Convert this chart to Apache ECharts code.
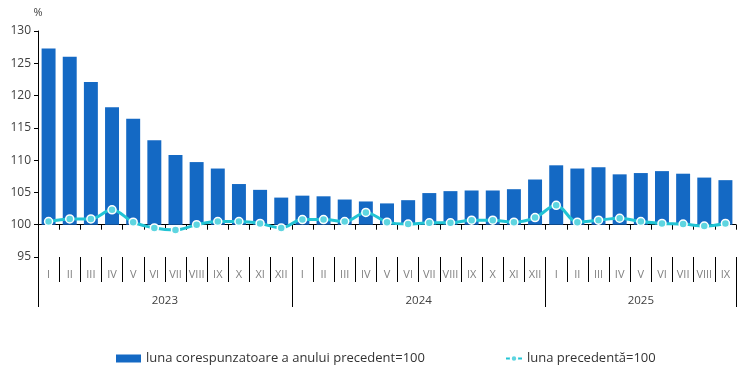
<!DOCTYPE html>
<html>
<head>
<meta charset="utf-8">
<script src="https://cdn.jsdelivr.net/npm/echarts@6/dist/echarts.min.js"></script>
<style>
  html, body { margin: 0; padding: 0; background: #fff; }
  #chart { width: 749px; height: 375px; }
</style>
</head>
<body>
<div id="chart"></div>
<script>
const monthNames = ['I','II','III','IV','V','VI','VII','VIII','IX','X','XI','XII'];
const years = ['2023','2024','2025'];
const monthsPerYear = [12, 12, 9];
const yoyName = 'luna corespunzatoare a anului precedent=100';
const momName = 'luna precedentă=100';
// luna corespunzatoare a anului precedent = 100
const yoyValues = [
  127.3, 126.0, 122.1, 118.2, 116.4, 113.1, 110.8, 109.7, 108.7, 106.3, 105.4, 104.2,
  104.5, 104.4, 103.9, 103.6, 103.3, 103.8, 104.9, 105.2, 105.3, 105.3, 105.5, 107.0,
  109.2, 108.7, 108.9, 107.8, 108.0, 108.3, 107.9, 107.3, 106.9
];
// luna precedenta = 100
const momValues = [
  100.5, 100.9, 100.9, 102.3, 100.4, 99.5, 99.2, 100.0, 100.5, 100.5, 100.2, 99.5,
  100.8, 100.8, 100.5, 101.9, 100.4, 100.1, 100.3, 100.3, 100.7, 100.7, 100.4, 101.1,
  103.0, 100.4, 100.7, 101.0, 100.5, 100.2, 100.1, 99.8, 100.2
];
const baseValue = 100;

const categories = [];
const yearStarts = [];
const yearLabelAt = {};
years.forEach((y, k) => {
  const start = categories.length;
  yearStarts.push(start);
  const n = monthsPerYear[k];
  for (let i = 0; i < n; i++) categories.push(monthNames[i]);
  const idx = start + Math.floor((n - 1) / 2);
  yearLabelAt[idx] = { text: y, shift: n % 2 === 0 };
});

const FONT = 'Open Sans';
const chart = echarts.init(document.getElementById('chart'), null, { renderer: 'canvas' });

chart.setOption({
  animation: false,
  textStyle: { fontFamily: FONT },
  grid: { left: 38, right: 13, top: 31, bottom: 118, containLabel: false },
  legend: [
    {
      left: 111, top: 347, icon: 'rect', itemWidth: 25, itemHeight: 8, itemGap: 0,
      data: [yoyName],
      textStyle: { fontFamily: FONT, fontSize: 13, color: '#333' }
    },
    {
      left: 500, top: 347, itemWidth: 16, itemHeight: 8,
      data: [momName],
      textStyle: { fontFamily: FONT, fontSize: 13, color: '#333' }
    }
  ],
  xAxis: [
    {
      type: 'category', data: categories, position: 'bottom',
      axisLine: { show: true, onZero: true, lineStyle: { color: '#000', width: 1 } },
      axisTick: { show: true, length: 5, interval: 0, lineStyle: { color: '#000' } },
      axisLabel: { show: false },
      splitLine: { show: false }
    },
    {
      type: 'category', data: categories, position: 'bottom', offset: 0,
      axisLine: { show: false, onZero: false },
      axisTick: { show: true, length: 25, interval: 0, lineStyle: { color: '#000' } },
      axisLabel: { interval: 0, margin: 12, color: '#808080', fontSize: 11, fontFamily: FONT },
      splitLine: { show: false }
    },
    {
      type: 'category', data: categories, position: 'bottom', offset: 25,
      axisLine: { show: false, onZero: false },
      axisTick: {
        show: true, length: 25,
        interval: (i) => yearStarts.indexOf(i) !== -1,
        lineStyle: { color: '#000' }
      },
      axisLabel: {
        interval: (i) => yearLabelAt[i] !== undefined,
        margin: 13,
        formatter: (v, i) => {
          const l = yearLabelAt[i];
          if (!l) return '';
          return l.shift ? '{s|' + l.text + '}' : '{n|' + l.text + '}';
        },
        rich: {
          s: { padding: [0, 0, 0, 21], fontSize: 11.5, color: '#404040', fontFamily: FONT },
          n: { fontSize: 11.5, color: '#404040', fontFamily: FONT }
        }
      },
      splitLine: { show: false }
    }
  ],
  yAxis: {
    type: 'value', min: 95 - baseValue, max: 130 - baseValue, interval: 5,
    name: '%', nameLocation: 'end', nameGap: 13,
    nameTextStyle: { color: '#404040', fontSize: 11, fontFamily: FONT },
    axisLine: { show: true, lineStyle: { color: '#000', width: 1 } },
    axisTick: { show: true, length: 4, lineStyle: { color: '#000' } },
    axisLabel: {
      margin: 7, color: '#404040', fontSize: 12, fontFamily: FONT,
      formatter: (v) => String(v + baseValue)
    },
    splitLine: { show: false }
  },
  series: [
    {
      name: yoyName, type: 'bar', xAxisIndex: 0,
      data: yoyValues.map(v => +(v - baseValue).toFixed(2)),
      barCategoryGap: '34%',
      itemStyle: { color: '#1469C4' }
    },
    {
      name: momName, type: 'line', xAxisIndex: 0,
      data: momValues.map(v => +(v - baseValue).toFixed(2)),
      smooth: 0.35,
      symbol: 'circle', symbolSize: 8,
      lineStyle: { color: '#22C4D4', width: 3 },
      itemStyle: { color: '#5ED5E0', borderColor: '#ffffff', borderWidth: 1.5 },
      z: 3
    }
  ]
});
</script>
</body>
</html>
